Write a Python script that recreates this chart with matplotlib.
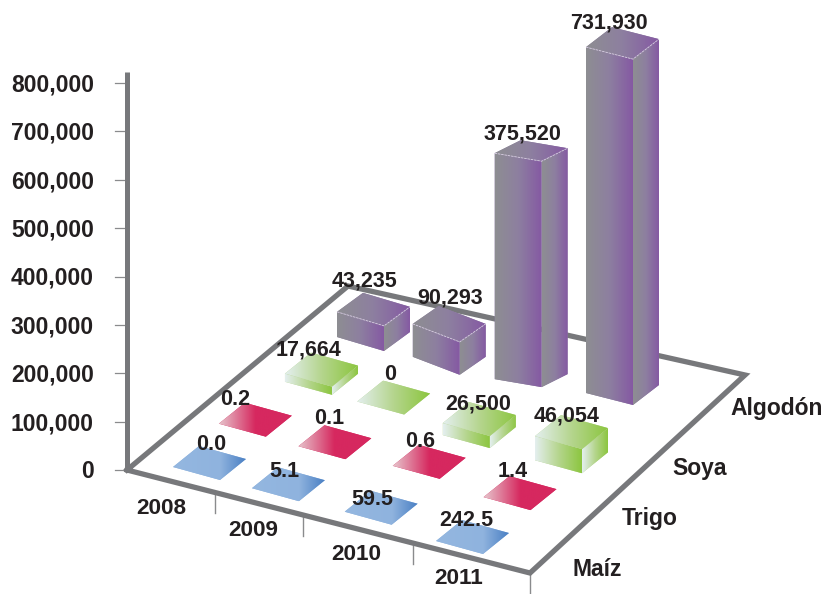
import matplotlib
matplotlib.use('Agg')
import matplotlib.pyplot as plt
import numpy as np
from matplotlib.colors import LinearSegmentedColormap
from matplotlib.patches import Polygon

plt.rcParams['font.family'] = ['Liberation Sans', 'DejaVu Sans']

years = ['2008', '2009', '2010', '2011']
crops = ['Maíz', 'Trigo', 'Soya', 'Algodón']
y_ticks = [0, 100000, 200000, 300000, 400000, 500000, 600000, 700000, 800000]

# printed labels, one row per crop
maiz_labels = ['0.0', '5.1', '59.5', '242.5']
trigo_labels = ['0.2', '0.1', '0.6', '1.4']
soya_labels = ['17,664', '0', '26,500', '46,054']
algodon_labels = ['43,235', '90,293', '375,520', '731,930']

# bar heights as read against the axis (the 2010 bar stands taller than its label)
maiz_h = [0, 0, 0, 0]
trigo_h = [0, 0, 0, 0]
soya_h = [17000, 0, 25000, 50000]
algodon_h = [52000, 68000, 467000, 715000]

labels = [maiz_labels, trigo_labels, soya_labels, algodon_labels]
heights = [maiz_h, trigo_h, soya_h, algodon_h]

# ---- layout of the fake 3d, all in image pixels
px_per_unit = 387 / 800000
origin_y = 470
col_u = [0, .3, .645, 1]
row_v = [0, .31, .64, 1]
base_corners = np.array([[173, 467], [436, 541], [337, 337], [586, 393]])
nudge = [[(0, 0), (0, -1), (2, -3), (0, 0)],
         [(-5, -3), (-3, -1), (2, -5), (1, 2)],
         [(7, -2), (3, -1), (1, 11), (3, 14)],
         [(0, 0), (1, 3), (-3, 6), (0, 0)]]
front_dy = [[13] * 4, [13] * 4, [13] * 4, [14, 18, 8, 12]]
side_dy = [[-21] * 4, [-21] * 4, [-21] * 4, [-19, -18, -13, -20]]
front_dx = 47
side_dx = 26
label_off = [[(12, -1), (6, 4), (2, 9), (4, 1)],
             [(-10, -3), (5, -7), (1, -3), (3, -5)],
             [(-2, -3), (7, -6), (9, 2), (6, 1)],
             [(2, -12), (11, -8), (2, -6), (-3, -4)]]

floor = [(127, 470), (530, 573), (745, 375), (348, 286)]
year_ticks = [.218, .437, .71, 1]
year_pos = [(161, 509), (253, 531), (356, 555), (459, 579)]
crop_pos = [(597, 569), (650, 519), (700, 469), (777, 409)]

dark = '#231f20'
axis_gray = '#77787b'
cm_algodon = LinearSegmentedColormap.from_list('a', ['#8e8e92', '#8d7fa0', '#8559a3'])
cm_soya = LinearSegmentedColormap.from_list('s', ['#e4efef', '#b5d58e', '#8cc63f'])
cm_trigo = LinearSegmentedColormap.from_list('t', [(0, '#e6c4cb'), (.5, '#d6285f'), (1, '#d6285f')])
cm_maiz = LinearSegmentedColormap.from_list('m', [(0, '#94b7e0'), (.65, '#8fb3de'), (1, '#4a80c4')])
cmaps = [cm_maiz, cm_trigo, cm_soya, cm_algodon]


def project(u, v):
    a, b, c, d = base_corners
    return (1 - u) * (1 - v) * a + u * (1 - v) * b + (1 - u) * v * c + u * v * d


def face(ax, pts, cmap, z, under=True):
    pts = np.array(pts, dtype=float)
    # solid fill underneath stops the floor line showing through face seams
    c = cmap(.5) if under else 'none'
    poly = Polygon(pts, closed=True, fc=c, ec='none', zorder=z)
    ax.add_patch(poly)
    im = ax.imshow(np.linspace(0, 1, 256)[None, :], cmap=cmap, aspect='auto', zorder=z,
                   extent=(pts[:, 0].min(), pts[:, 0].max(), pts[:, 1].max(), pts[:, 1].min()))
    im.set_clip_path(poly)


fig = plt.figure(figsize=(8.26, 5.94), dpi=100)
ax = fig.add_axes([0, 0, 1, 1])
ax.axis('off')

# floor frame and vertical axis
fx, fy = zip(*(floor + floor[:1]))
ax.plot(fx, fy, color=axis_gray, lw=3.8, solid_joinstyle='miter', zorder=2)
ax.plot([126.5, 126.5], [origin_y, origin_y - 800000 * px_per_unit - 11], color=axis_gray, lw=3.6,
        solid_capstyle='butt', zorder=2)

for t in y_ticks:
    y = origin_y - t * px_per_unit
    ax.plot([115, 127], [y, y], color='#8a8b8d', lw=.9, zorder=1)
    ax.text(94, y + 2, f'{t:,}', ha='right', va='center', fontsize=16.5, fontweight='bold', color=dark, zorder=50)

for u in year_ticks:
    tx = floor[0][0] + u * (floor[1][0] - floor[0][0])
    ty = floor[0][1] + u * (floor[1][1] - floor[0][1])
    ax.plot([tx, tx], [ty, ty + 21], color='#8a8b8d', lw=1.0, zorder=1)
for name, (x, y) in zip(years, year_pos):
    ax.text(x, y, name, ha='center', va='center', fontsize=16.2, fontweight='bold', color=dark, zorder=50)
for name, (x, y) in zip(crops, crop_pos):
    ax.text(x, y, name, ha='center', va='center', fontsize=16.5, fontweight='bold', color=dark, zorder=50)

# back rows first so the near ones overlap them
z = 10
for j in range(3, -1, -1):
    for i in range(4):
        L = project(col_u[i], row_v[j]) + np.array(nudge[j][i])
        F = np.array([front_dx, front_dy[j][i]])
        S = np.array([side_dx, side_dy[j][i]])
        h = np.array([0, heights[j][i] * px_per_unit])
        cmap = cmaps[j]
        z += 1
        if heights[j][i] > 0:
            face(ax, [L, L + F, L + F - h, L - h], cmap, z)
            face(ax, [L + F, L + F + S, L + F + S - h, L + F - h], cmap, z)
        face(ax, [L - h, L + F - h, L + F + S - h, L + S - h], cmap, z)
        if j == 3:
            top = np.array([L - h, L + F - h, L + F + S - h])
            ax.plot(top[:, 0], top[:, 1], color='#d9cfe3', lw=.6, ls=(0, (3, 1)), zorder=z)
        back = L + S - h
        dx, dy = label_off[j][i]
        ax.text(back[0] + dx, back[1] + dy, labels[j][i], ha='center', va='center',
                fontsize=15.5, fontweight='bold', color=dark, zorder=50)

ax.set_xlim(0, 826)
ax.set_ylim(594, 0)
fig.savefig('out.png', dpi=100)
